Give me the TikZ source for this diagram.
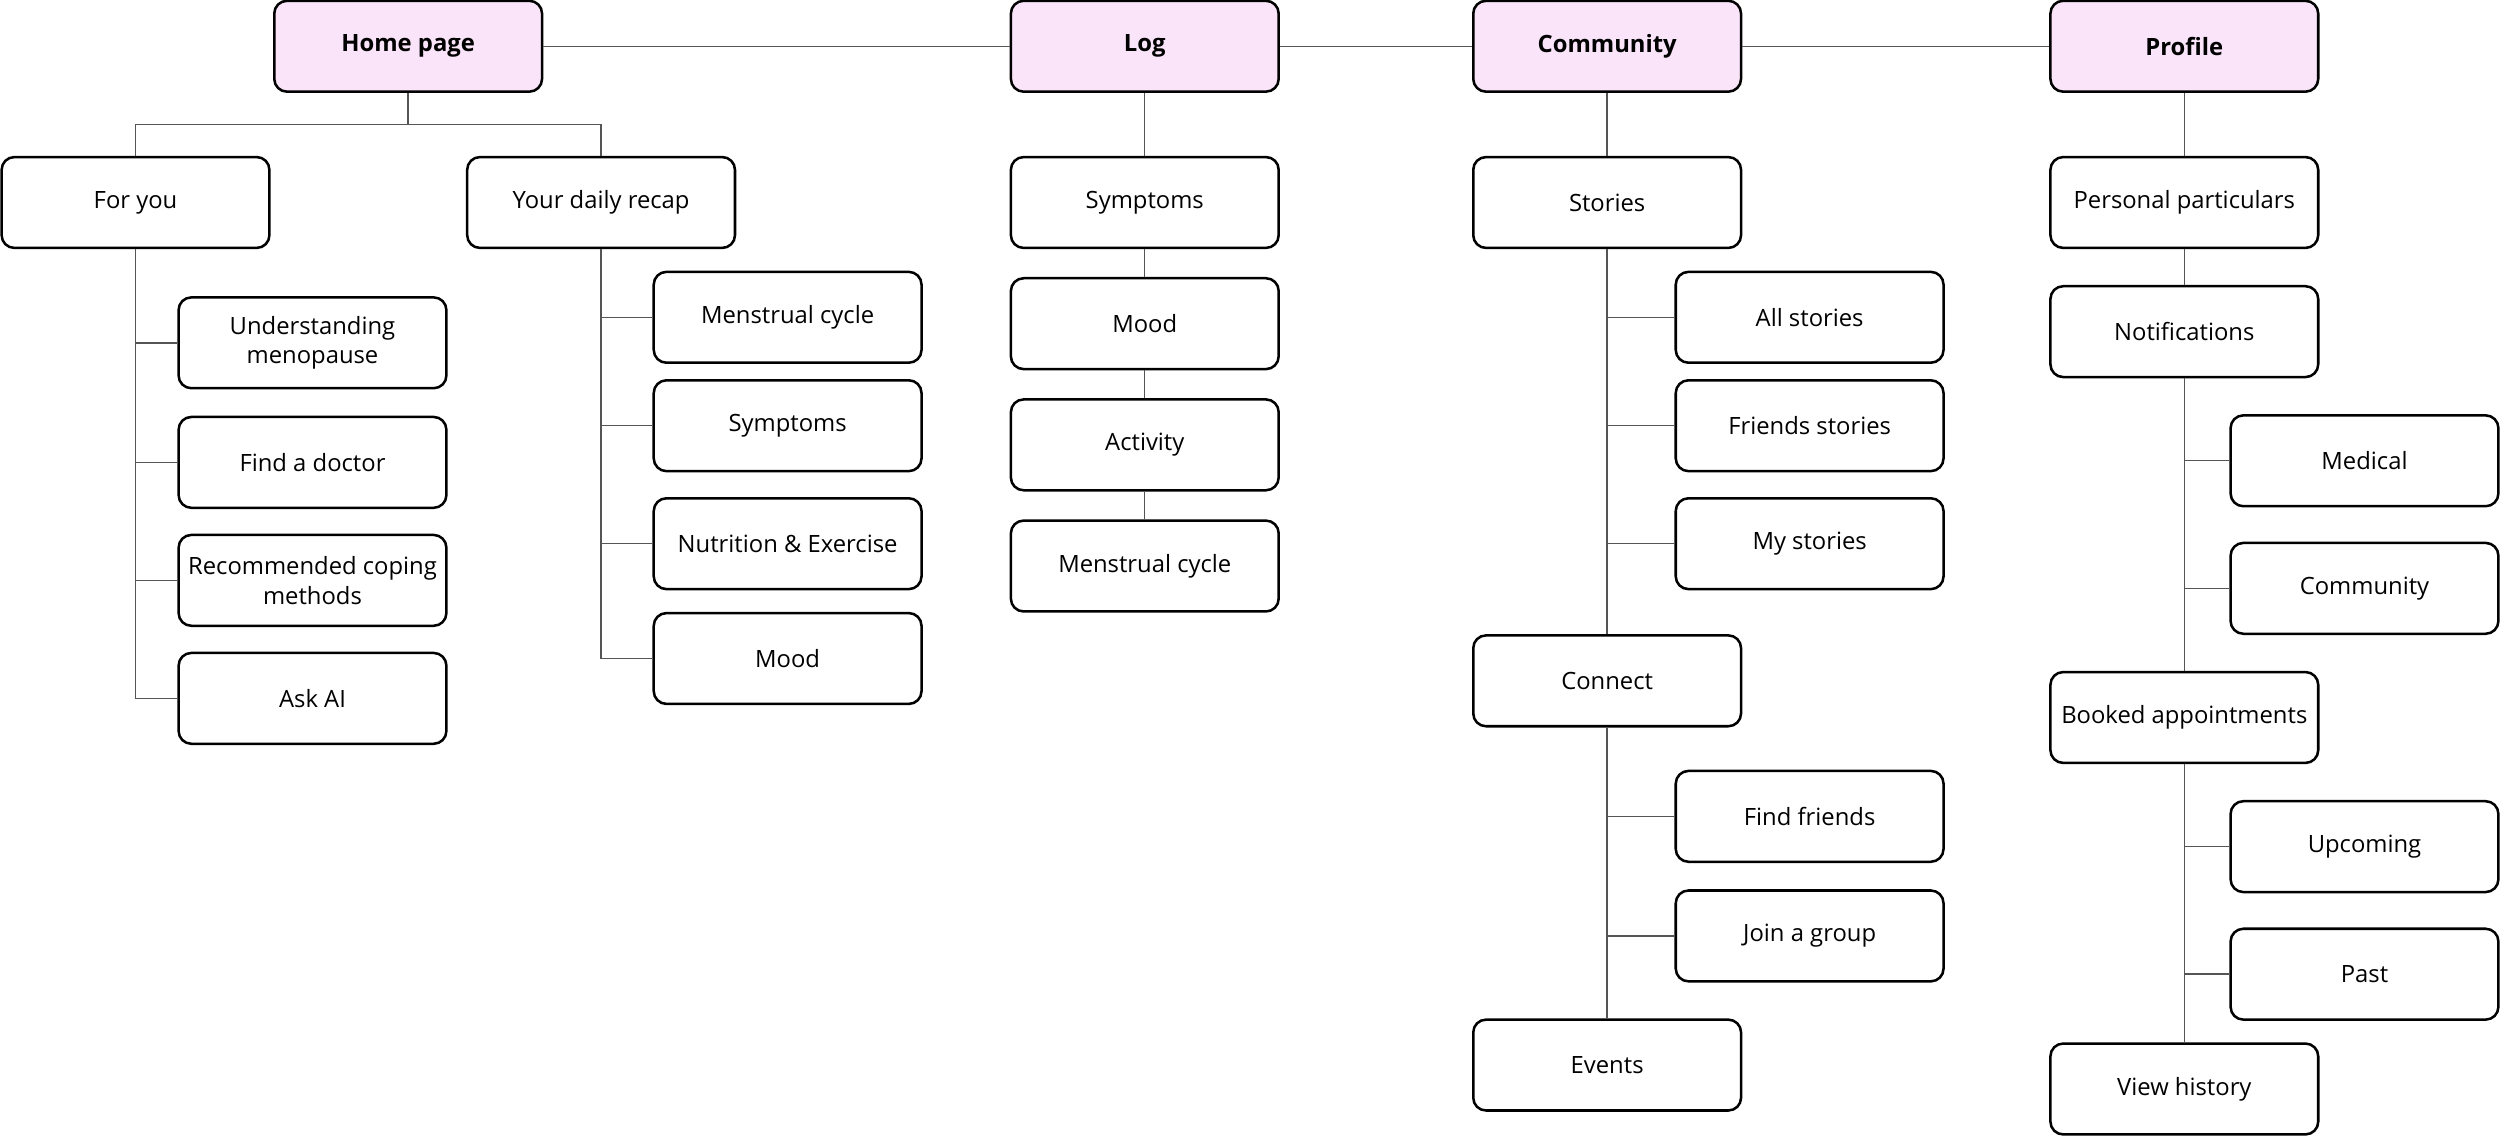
\documentclass[tikz,border=0pt]{standalone}
\usepackage{fontspec}
\setmainfont{Open Sans}
\usetikzlibrary{positioning}
\definecolor{pinkfill}{HTML}{F9E4F9}
\definecolor{linegray}{HTML}{555555}

\begin{document}
\begin{tikzpicture}[x=0.02cm,y=-0.02cm,
			every node/.style={
				align=center,		% line breaks with "\\"
				font=\fontsize{8.5}{10.5}\selectfont
			},
			box/.style={rectangle,rounded corners=0.16cm,draw=black,line width=0.9pt,
				fill=white,minimum width=3.36cm,minimum height=1.14cm,inner sep=2pt},
			top/.style={box,fill=pinkfill,font=\fontsize{8.5}{10.5}\selectfont\bfseries},
			link/.style={draw=linegray,line width=0.5pt}
		]
		\useasboundingbox (0,0) rectangle (1568,714);
		% top row
		\node[top](home) at (256,29){Home page};
		\node[top](log) at (718,29){Log};
		\node[top](comm) at (1008,29){Community};
		\node[top](prof) at (1370,29){Profile};
		\path[link] (home)--(log) (log)--(comm) (comm)--(prof);
		% home page
		\node[box](foryou) at (85,127){For you};
		\node[box](recap) at (377,127){Your daily recap};
		\coordinate (bus) at (256,78);
		\draw[link] (home.south)--(bus) (foryou.north)|-(bus) (recap.north)|-(bus);
		\foreach \n/\y/\t in {u1/215/Understanding\\menopause,u2/290/Find a doctor,u3/364/Recommended coping\\methods,u4/438/Ask AI}{
			\node[box](\n) at (196,\y){\t};
			\draw[link] (foryou.south)|-(\n.west);
		}
		\foreach \n/\y/\t in {r1/199/Menstrual cycle,r2/267/Symptoms,r3/341/Nutrition \& Exercise,r4/413/Mood}{
			\node[box](\n) at (494,\y){\t};
			\draw[link] (recap.south)|-(\n.west);
		}
		% log
		\node[box](l1) at (718,127){Symptoms};
		\node[box](l2) at (718,203){Mood};
		\node[box](l3) at (718,279){Activity};
		\node[box](l4) at (718,355){Menstrual cycle};
		\path[link] (log)--(l1) (l1)--(l2) (l2)--(l3) (l3)--(l4);
		% community
		\node[box](stories) at (1008,127){Stories};
		\node[box](connect) at (1008,427){Connect};
		\node[box](events) at (1008,668){Events};
		\path[link] (comm)--(stories) (stories)--(connect) (connect)--(events);
		\foreach \n/\y/\t in {s1/199/All stories,s2/267/Friends stories,s3/341/My stories}{
			\node[box](\n) at (1135,\y){\t};
			\draw[link] (stories.south)|-(\n.west);
		}
		\foreach \n/\y/\t in {c1/512/Find friends,c2/587/Join a group}{
			\node[box](\n) at (1135,\y){\t};
			\draw[link] (connect.south)|-(\n.west);
		}
		% profile
		\node[box](pers) at (1370,127){Personal particulars};
		\node[box](notif) at (1370,208){Notifications};
		\node[box](booked) at (1370,450){Booked appointments};
		\node[box](hist) at (1370,683){View history};
		\path[link] (prof)--(pers) (pers)--(notif) (notif)--(booked) (booked)--(hist);
		\foreach \n/\y/\t in {n1/289/Medical,n2/369/Community}{
			\node[box](\n) at (1483,\y){\t};
			\draw[link] (notif.south)|-(\n.west);
		}
		\foreach \n/\y/\t in {b1/531/Upcoming,b2/611/Past}{
			\node[box](\n) at (1483,\y){\t};
			\draw[link] (booked.south)|-(\n.west);
		}
	\end{tikzpicture}
\end{document}
